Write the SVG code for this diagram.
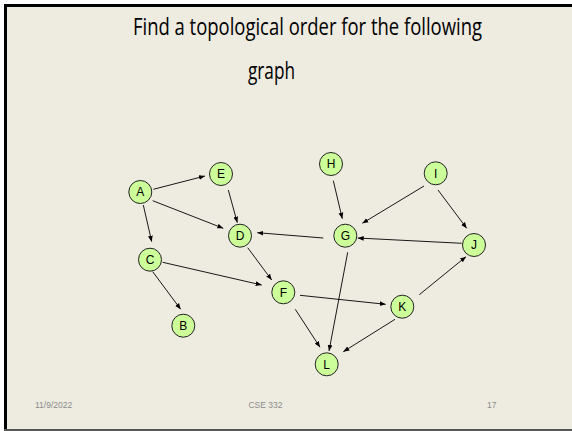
<svg xmlns="http://www.w3.org/2000/svg" width="572" height="431" viewBox="0 0 572 431">
<defs>
<marker id="ah" viewBox="0 0 10 10" refX="10" refY="5" markerWidth="6" markerHeight="6" orient="auto" markerUnits="userSpaceOnUse">
<path d="M0,1 L10,5 L0,9 z" fill="#000"/>
</marker>
<style>
.n circle{fill:#ccff99;stroke:#222;stroke-width:1}
.n text{font-family:"Liberation Sans",Arial,sans-serif;font-size:12px;fill:#000;text-anchor:middle}
#edges line{stroke:#000;stroke-width:0.9;marker-end:url(#ah)}
.foot{font-family:"Liberation Sans",Arial,sans-serif;font-size:8.5px;fill:#8c8c8c}
.title{font-family:"Open Sans","Liberation Sans",Arial,sans-serif;font-size:23px;fill:#000}
</style>
</defs>
<rect x="0" y="0" width="572" height="431" fill="#eeebe1"/>
<rect x="0" y="0" width="4" height="431" fill="#ffffff"/>
<rect x="0" y="0" width="572" height="4" fill="#ffffff"/>
<rect x="4" y="4" width="3" height="427" fill="#000"/>
<rect x="4" y="4" width="568" height="3" fill="#000"/>
<rect x="4" y="429" width="568" height="2" fill="#555"/>
<text class="title" x="133" y="35" textLength="349" lengthAdjust="spacingAndGlyphs">Find a topological order for the following</text>
<text class="title" x="248" y="79" textLength="47" lengthAdjust="spacingAndGlyphs">graph</text>
<g id="edges">
<line x1="153.3" y1="189.3" x2="205" y2="176"/>
<line x1="152.7" y1="200.7" x2="223.3" y2="228.3"/>
<line x1="143.3" y1="205" x2="151.7" y2="241.7"/>
<line x1="228.3" y1="190" x2="237.3" y2="222.7"/>
<line x1="323.3" y1="238" x2="257.3" y2="232.7"/>
<line x1="247.7" y1="247.7" x2="271.7" y2="280"/>
<line x1="162.7" y1="262.3" x2="261.7" y2="285"/>
<line x1="152.7" y1="271.7" x2="180.7" y2="309.3"/>
<line x1="333.3" y1="180.7" x2="342.3" y2="218.7"/>
<line x1="424" y1="186" x2="362.3" y2="223.3"/>
<line x1="438" y1="190" x2="466.7" y2="228.3"/>
<line x1="461.7" y1="243.3" x2="357.7" y2="238"/>
<line x1="419.3" y1="294.7" x2="466" y2="256.7"/>
<line x1="300" y1="295.3" x2="385.7" y2="304.3"/>
<line x1="295.3" y1="309.3" x2="320" y2="347.3"/>
<line x1="347.7" y1="252.3" x2="329" y2="351"/>
<line x1="395" y1="319.3" x2="343.3" y2="351.7"/>
</g>
<g id="A" class="n"><circle cx="140.3" cy="192" r="11.5"/><text x="140.3" y="196.3">A</text></g>
<g id="E" class="n"><circle cx="221" cy="174" r="11.5"/><text x="221" y="178.3">E</text></g>
<g id="D" class="n"><circle cx="240" cy="235.7" r="11.5"/><text x="240" y="240">D</text></g>
<g id="C" class="n"><circle cx="150" cy="259.7" r="11.5"/><text x="150" y="264">C</text></g>
<g id="B" class="n"><circle cx="183.3" cy="325.7" r="11.5"/><text x="183.3" y="330">B</text></g>
<g id="F" class="n"><circle cx="283.3" cy="292.3" r="11.5"/><text x="283.3" y="296.6">F</text></g>
<g id="K" class="n"><circle cx="402.3" cy="306.7" r="11.5"/><text x="402.3" y="311">K</text></g>
<g id="L" class="n"><circle cx="326.7" cy="364.3" r="11.5"/><text x="326.7" y="368.6">L</text></g>
<g id="H" class="n"><circle cx="331" cy="164" r="11.5"/><text x="331" y="168.3">H</text></g>
<g id="I" class="n"><circle cx="435.7" cy="173.3" r="11.5"/><text x="435.7" y="177.6">I</text></g>
<g id="G" class="n"><circle cx="345.3" cy="235.7" r="11.5"/><text x="345.3" y="240">G</text></g>
<g id="J" class="n"><circle cx="474" cy="245" r="11.5"/><text x="474" y="249.3">J</text></g>
<text class="foot" x="35" y="408">11/9/2022</text>
<text class="foot" x="265.5" y="408" text-anchor="middle">CSE 332</text>
<text class="foot" x="487" y="408">17</text>
</svg>
